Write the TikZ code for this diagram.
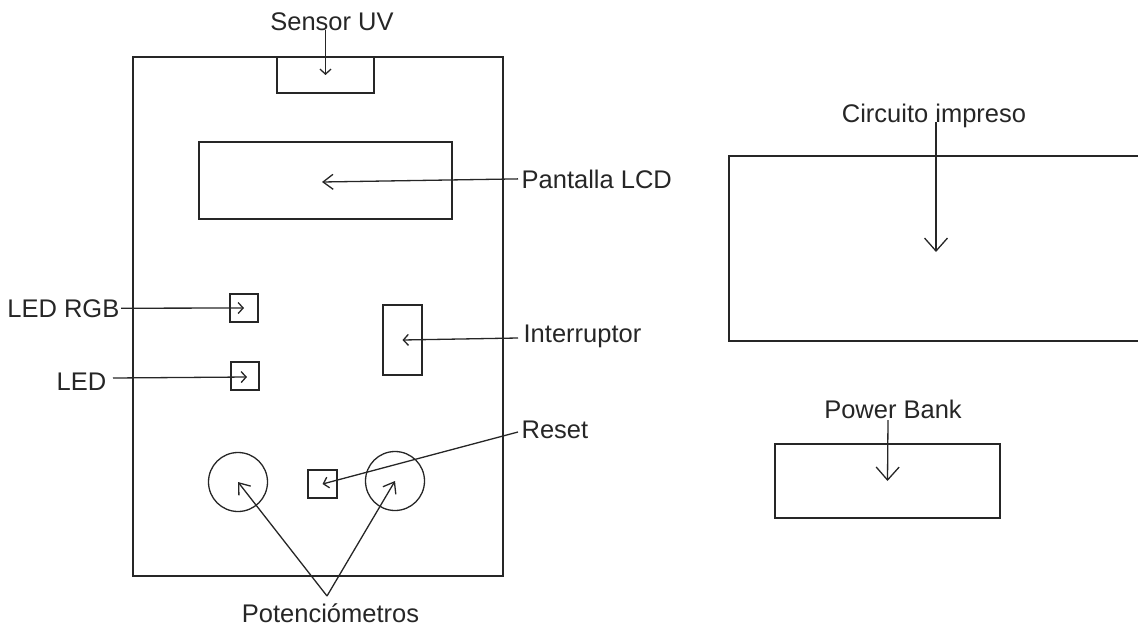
\documentclass[tikz,border=0pt]{standalone}
\usepackage{fontspec}
\setmainfont{Liberation Sans}
\usetikzlibrary{arrows.meta}
\tikzset{
	part/.style={draw, rectangle, inner sep=0pt},
	tag/.style={inner sep=0pt, font=\fontsize{25.5}{30}\selectfont},
	pointer/.style={-{Straight Barb[length=5pt, width=11pt]}},
	midpointer/.style={-{Straight Barb[length=10pt, width=15pt]}},
	bigpointer/.style={-{Straight Barb[length=13pt, width=23pt]}}
}
\begin{document}
\begin{tikzpicture}[x=1pt, y=-1pt, line width=1.3pt, color=black!85]
		\useasboundingbox (0, 0) rectangle (1138, 627);
		% caja del dispositivo
		\node[part, minimum width=370pt, minimum height=519pt] (board) at (318, 316.5) {};
		\node[part, minimum width=97pt, minimum height=36pt] (uv) at (325.5, 75) {};
		\node[part, minimum width=253pt, minimum height=77pt] (lcd) at (325.5, 180.5) {};
		\node[part, minimum width=28pt, minimum height=28pt] (ledrgb) at (244, 308) {};
		\node[part, minimum width=28pt, minimum height=28pt] (led) at (245, 376) {};
		\node[part, minimum width=39pt, minimum height=70pt] (switch) at (402.5, 340) {};
		\node[part, minimum width=29pt, minimum height=28pt] (reset) at (322.5, 484) {};
		\node[draw, circle, minimum size=59pt, inner sep=0pt] (potl) at (238, 482) {};
		\node[draw, circle, minimum size=59pt, inner sep=0pt] (potr) at (395, 481) {};
		% circuito y bateria
		\draw (1140, 156) -- (729, 156) -- (729, 341) -- (1140, 341);
		\coordinate (pcb) at (936, 252);
		\node[part, minimum width=225pt, minimum height=74pt] (bank) at (887.5, 481) {};
		% textos
		\node[tag, anchor=base] (uvtag) at (332, 30) {Sensor UV};
		\node[tag, anchor=base west] (lcdtag) at (521, 188) {Pantalla LCD};
		\node[tag, anchor=base east] (rgbtag) at (120, 317) {LED RGB};
		\node[tag, anchor=base east] (ledtag) at (107, 390) {LED};
		\node[tag, anchor=base west] (switchtag) at (523, 342) {Interruptor};
		\node[tag, anchor=base west] (resettag) at (521, 438) {Reset};
		\node[tag, anchor=base] (pottag) at (330.5, 622) {Potenciómetros};
		\node[tag, anchor=base] (pcbtag) at (934, 122) {Circuito impreso};
		\node[tag, anchor=base] (banktag) at (893, 418) {Power Bank};
		% flechas
		\coordinate (apex) at (327, 596);
		\draw[pointer] (uvtag.base -| uv) -- (uv.center);
		\draw[midpointer] (lcdtag.west) ++(-3, 0) -- (322, 182);
		\draw[pointer] (rgbtag.east) ++(1, 0) -- (ledrgb.center);
		\draw[pointer] (113, 378) -- (247, 377);
		\draw[pointer] (518, 338) -- (switch.center);
		\draw[pointer] (518, 432) -- (reset.center);
		\draw[midpointer] (apex) -- (potl.center);
		\draw[midpointer] (apex) -- (potr.center);
		\draw[bigpointer] (pcbtag.base -| pcb) -- (pcb);
		\draw[bigpointer] (888, 420) -- (bank.center);
	\end{tikzpicture}
\end{document}
